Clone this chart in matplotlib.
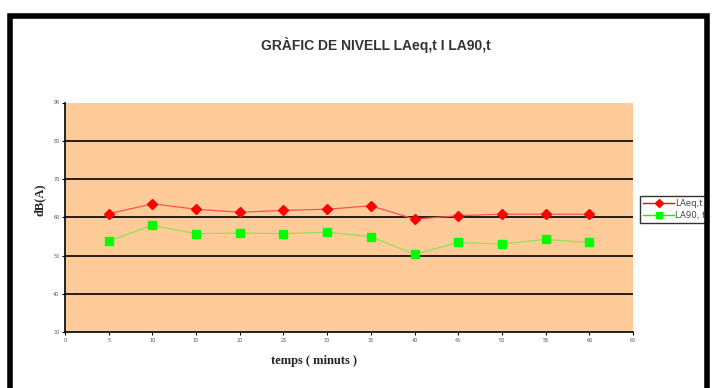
import matplotlib
matplotlib.use("Agg")
import matplotlib.pyplot as plt
from matplotlib.patches import Rectangle

minutes = [5, 10, 15, 20, 25, 30, 35, 40, 45, 50, 55, 60]
laeq = [60.9, 63.5, 62.1, 61.3, 61.8, 62.1, 63.0, 59.5, 60.4, 60.8, 60.8, 60.8]
la90 = [53.8, 57.9, 55.7, 55.9, 55.7, 56.1, 54.9, 50.3, 53.4, 53.0, 54.2, 53.4]
xticks = list(range(0, 70, 5))
yticks = list(range(30, 100, 10))
title = "GRÀFIC DE NIVELL LAeq,t I LA90,t"
series_names = ["LAeq,t", "LA90, t"]

W, H = 714, 388
fig = plt.figure(figsize=(W / 100, H / 100), dpi=100)
fig.patch.set_facecolor("white")

ax = fig.add_axes([65 / W, 1 - 332 / H, (633 - 65) / W, (332 - 102.5) / H])
ax.set_facecolor("#FFCC99")
ax.set_xlim(0, 65)
ax.set_ylim(30, 90)
ax.set_xticks(xticks)
ax.set_yticks(yticks)
ax.set_xticklabels([str(v) for v in xticks])
ax.set_yticklabels([str(v) for v in yticks])
ax.tick_params(axis="both", labelsize=3.5, colors="black", labelcolor="#555555",
               length=2, width=0.8, pad=2)
for s in ["top", "right"]:
    ax.spines[s].set_visible(False)
for s in ["left", "bottom"]:
    ax.spines[s].set_linewidth(1.2)
    ax.spines[s].set_color("black")
for v in yticks[1:-1]:
    ax.axhline(v, color="black", lw=1.2, zorder=1)

ax.plot(minutes, laeq, color="#FF5050", lw=0.9, marker="D", markersize=5,
        markerfacecolor="#FF0000", markeredgecolor="#FF0000", zorder=3)
ax.plot(minutes, la90, color="#99DD55", lw=0.9, marker="s", markersize=6,
        markerfacecolor="#00FF00", markeredgecolor="#00FF00", zorder=3)

fig.text(376 / W, 1 - 45 / H, title, ha="center", va="center", fontsize=10,
         fontweight="bold", family="Liberation Sans", color="#333333")
fig.text(314 / W, 1 - 361 / H, "temps ( minuts )", ha="center", va="center",
         fontsize=9, fontweight="bold", family="Liberation Serif", color="#222222")
fig.text(40 / W, 1 - 200 / H, "dB(A)", ha="center", va="center", rotation=90,
         fontsize=9, fontweight="bold", family="Liberation Serif", color="#222222")

lines_legend = [
    ax.plot([], [], color="#FF0000", lw=1, marker="D", markersize=4,
            markerfacecolor="#FF0000", markeredgecolor="#FF0000")[0],
    ax.plot([], [], color="#00FF00", lw=1, marker="s", markersize=5,
            markerfacecolor="#00FF00", markeredgecolor="#00FF00")[0],
]
leg = fig.legend(lines_legend, series_names, loc="upper left",
                 bbox_to_anchor=(640 / W, 1 - 196 / H), fontsize=6.2,
                 frameon=True, fancybox=False, borderpad=0.3, labelspacing=0.4,
                 handlelength=3.7, handletextpad=0.1, borderaxespad=0)
leg.get_frame().set_edgecolor("black")
leg.get_frame().set_linewidth(1.0)
leg.set_zorder(5)
for t in leg.get_texts():
    t.set_color("#444444")

border = Rectangle((9.5 / W, -0.05), (706.5 - 9.5) / W, (1 - 15.5 / H) + 0.05,
                   transform=fig.transFigure, fill=False, edgecolor="black",
                   lw=4, zorder=10)
fig.patches.append(border)

fig.savefig("out.png", dpi=100)
